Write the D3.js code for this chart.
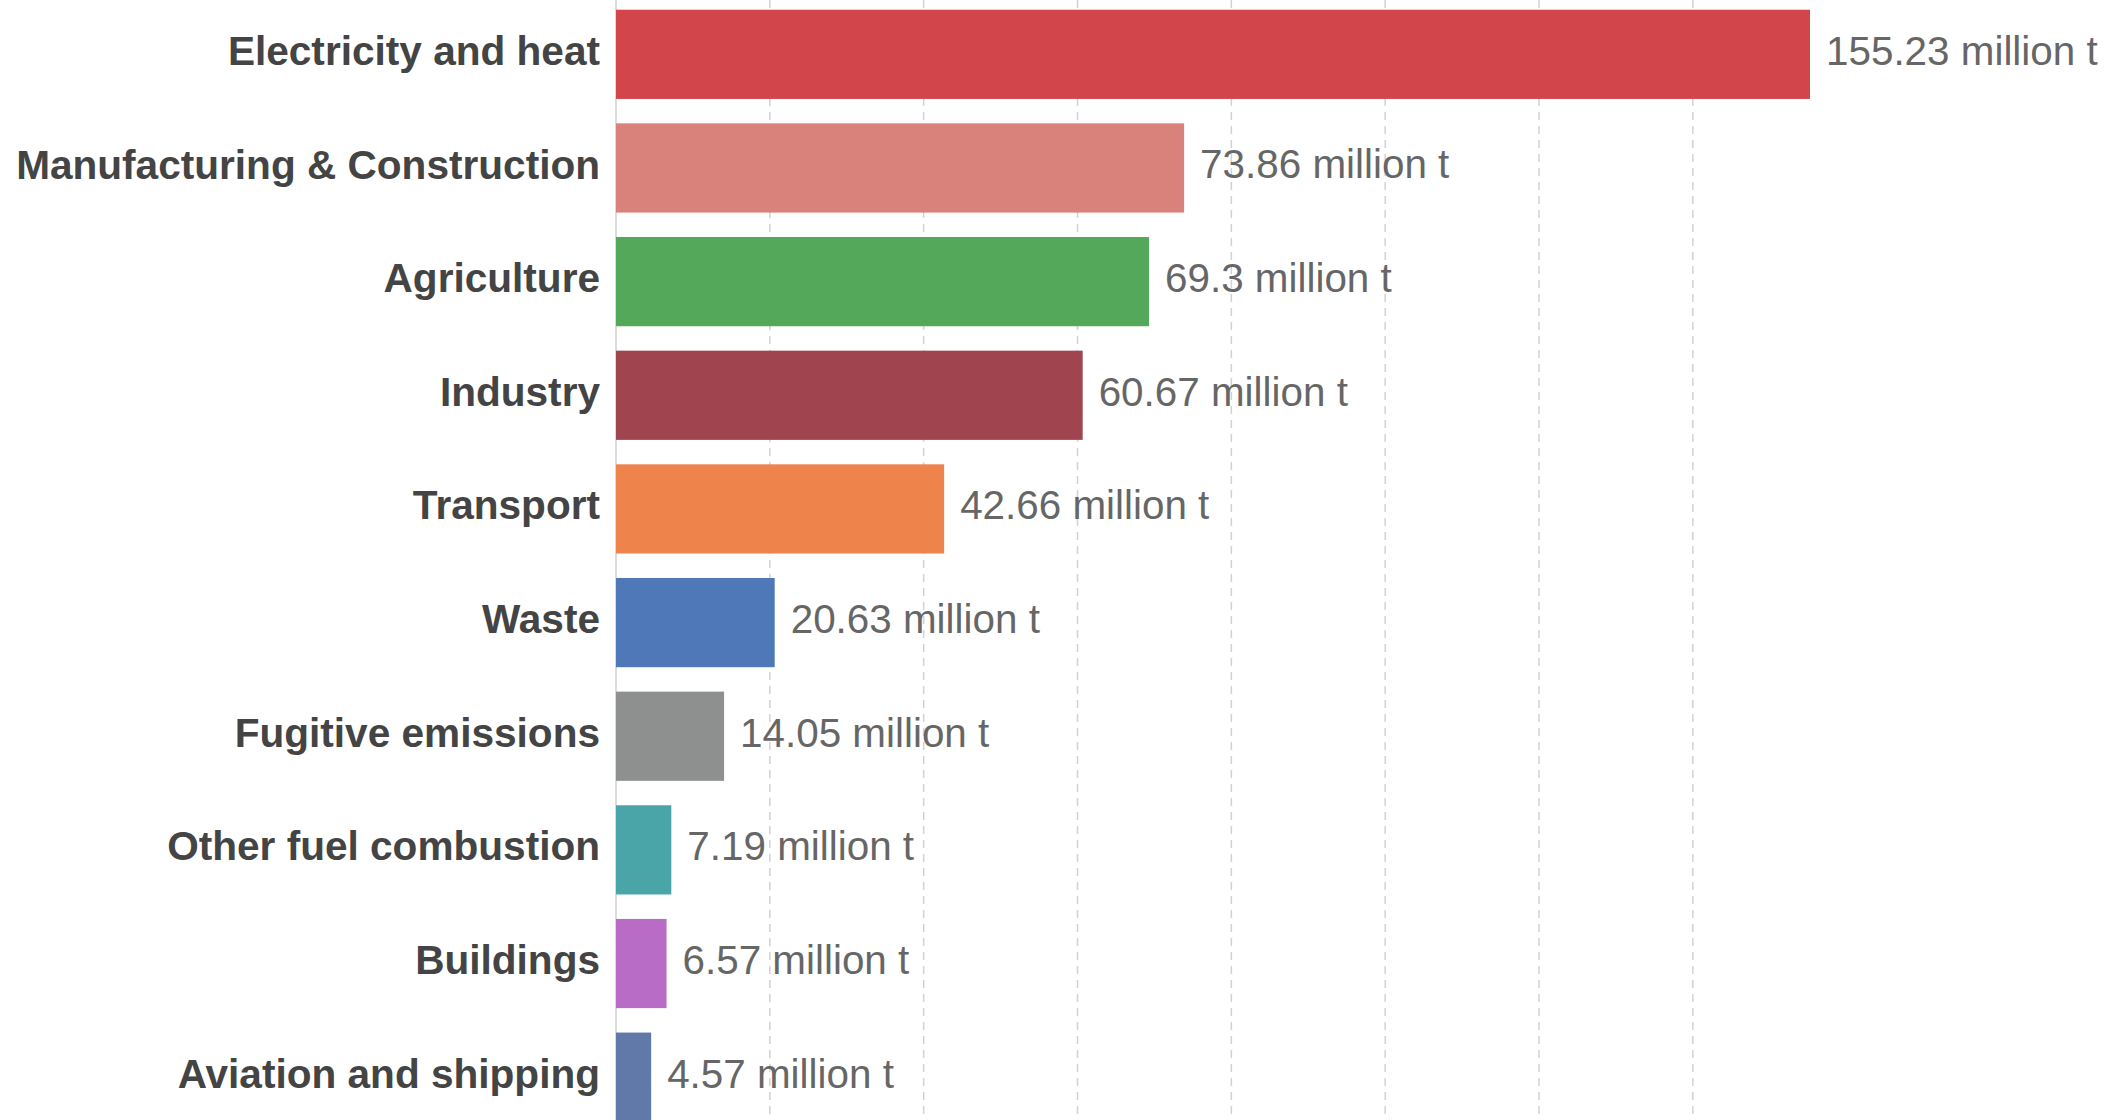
<!DOCTYPE html>
<html><head><meta charset="utf-8">
<script src="https://cdn.jsdelivr.net/npm/d3@7"></script>
<style>html,body{margin:0;padding:0;background:#fff;overflow:hidden}</style>
</head><body>
<svg id="chart" width="2123" height="1120"></svg>
<script>
const categories = ["Electricity and heat","Manufacturing & Construction","Agriculture","Industry","Transport","Waste","Fugitive emissions","Other fuel combustion","Buildings","Aviation and shipping"];
const values = [155.23, 73.86, 69.3, 60.67, 42.66, 20.63, 14.05, 7.19, 6.57, 4.57];
const barColors = ["#d1454b","#d9827b","#54a85a","#a0454f","#ee834c","#4e78b8","#8e908f","#49a5a8","#b86cc6","#6079a8"];
const gridTicks = [20, 40, 60, 80, 100, 120, 140];
const unitLabel = " million t";

const svg = d3.select("#chart");
const x = d3.scaleLinear().domain([0, 155.23]).range([616, 1810]);
const y = d3.scaleBand().domain(categories).range([-2.5, 1134]).paddingInner(0.215).paddingOuter(0.1075);

// grid lines
svg.append("g").selectAll("line").data(gridTicks).join("line")
  .attr("x1", d => x(d)).attr("x2", d => x(d))
  .attr("y1", 0).attr("y2", 1120)
  .attr("stroke", "#d2d2d2").attr("stroke-width", 1.5)
  .attr("stroke-dasharray", "8,6");

// baseline
svg.append("line").attr("x1", x(0)).attr("x2", x(0)).attr("y1", 0).attr("y2", 1120)
  .attr("stroke", "#d0d0d0").attr("stroke-width", 1.5);

// bars
svg.append("g").selectAll("rect").data(categories).join("rect")
  .attr("x", x(0))
  .attr("y", d => y(d))
  .attr("width", (d, i) => x(values[i]) - x(0))
  .attr("height", y.bandwidth())
  .attr("fill", (d, i) => barColors[i]);

// category labels
svg.append("g").selectAll("text").data(categories).join("text")
  .attr("x", x(0) - 16)
  .attr("y", d => y(d) + y.bandwidth() / 2)
  .attr("dy", "0.26em")
  .attr("text-anchor", "end")
  .attr("font-family", "Liberation Sans, Arial, sans-serif")
  .attr("font-weight", "bold")
  .attr("font-size", 40.6)
  .attr("fill", "#444")
  .text(d => d);

// value labels
svg.append("g").selectAll("text").data(categories).join("text")
  .attr("x", (d, i) => x(values[i]) + 16)
  .attr("y", d => y(d) + y.bandwidth() / 2)
  .attr("dy", "0.26em")
  .attr("font-family", "Liberation Sans, Arial, sans-serif")
  .attr("font-size", 40.4)
  .attr("fill", "#666")
  .text((d, i) => values[i] + unitLabel);
</script>
</body></html>
